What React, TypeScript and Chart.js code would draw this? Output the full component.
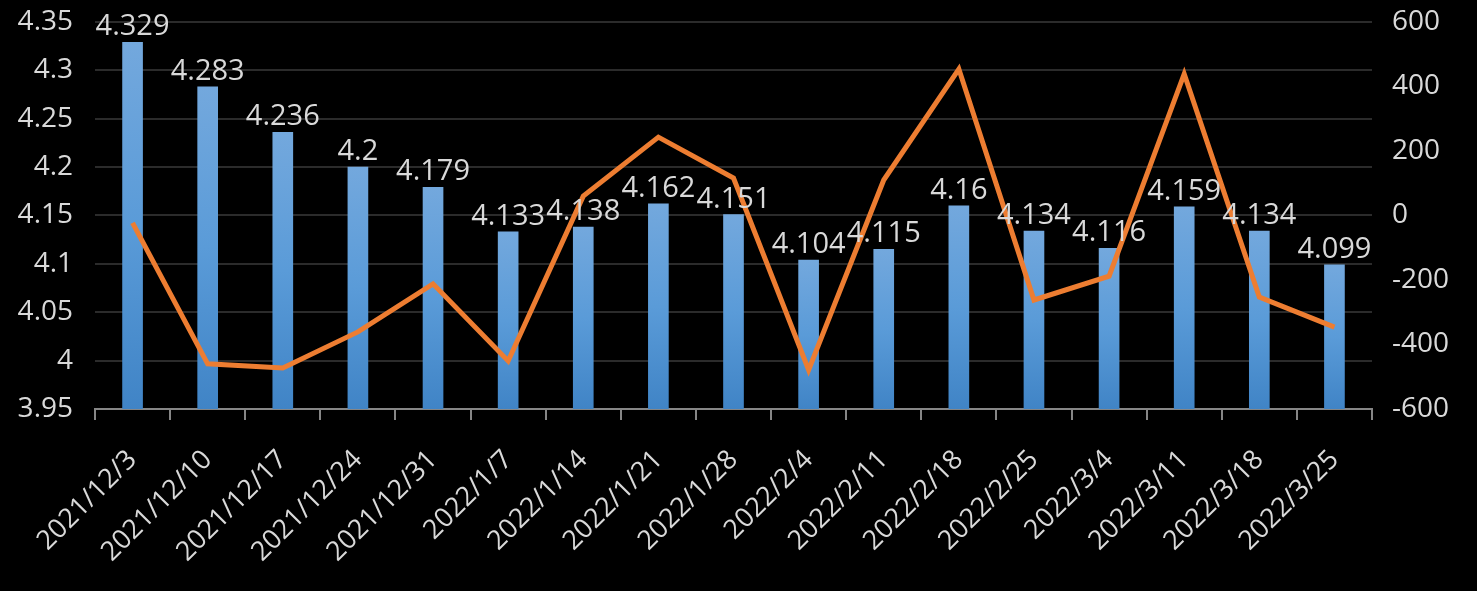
import React, { useEffect, useRef } from "react";
import { Chart, registerables } from "chart.js";

Chart.register(...registerables);

const categories = [
  "2021/12/3", "2021/12/10", "2021/12/17", "2021/12/24", "2021/12/31",
  "2022/1/7", "2022/1/14", "2022/1/21", "2022/1/28", "2022/2/4",
  "2022/2/11", "2022/2/18", "2022/2/25", "2022/3/4", "2022/3/11",
  "2022/3/18", "2022/3/25",
];
const rateValues = [
  4.329, 4.283, 4.236, 4.2, 4.179, 4.133, 4.138, 4.162, 4.151, 4.104,
  4.115, 4.16, 4.134, 4.116, 4.159, 4.134, 4.099,
];
const changeValues = [
  -23, -460, -473, -361, -212, -451, 60, 243, 116, -479,
  110, 454, -262, -188, 439, -253, -346,
];
const leftTicks = [3.95, 4, 4.05, 4.1, 4.15, 4.2, 4.25, 4.3, 4.35];
const rightTicks = [-600, -400, -200, 0, 200, 400, 600];

const FONT = "'Open Sans', 'Noto Sans', sans-serif";
const TEXT = "#D9D9D9";

export default function App() {
  const ref = useRef<HTMLCanvasElement | null>(null);

  useEffect(() => {
    document.body.style.margin = "0";
    document.body.style.background = "#000";
    const canvas = ref.current;
    if (!canvas) return;

    const bgPlugin = {
      id: "bg",
      beforeDraw(chart: any) {
        const c = chart.ctx;
        c.save();
        c.fillStyle = "#000";
        c.fillRect(0, 0, chart.width, chart.height);
        c.restore();
      },
    };

    const labelPlugin = {
      id: "barLabels",
      afterDatasetsDraw(chart: any) {
        const meta = chart.getDatasetMeta(1);
        const c = chart.ctx;
        c.save();
        c.fillStyle = TEXT;
        c.font = `29px ${FONT}`;
        c.textAlign = "center";
        c.textBaseline = "alphabetic";
        meta.data.forEach((el: any, i: number) => {
          c.fillText(String(rateValues[i]), el.x, el.y - 7);
        });
        c.restore();
      },
    };

    const noPad = (s: any) => {
      s.paddingTop = 0;
      s.paddingBottom = 0;
      s.paddingLeft = 0;
      s.paddingRight = 0;
    };

    const chart = new Chart(canvas, {
      type: "bar",
      data: {
        labels: categories,
        datasets: [
          {
            type: "line",
            label: "change",
            data: changeValues,
            yAxisID: "y1",
            borderColor: "#ED7D31",
            borderWidth: 5,
            pointRadius: 0,
            tension: 0,
            order: 0,
          } as any,
          {
            type: "bar",
            label: "rate",
            data: rateValues,
            yAxisID: "y",
            barThickness: 20,
            backgroundColor: (ctx: any) => {
              const chart = ctx.chart;
              const area = chart.chartArea;
              if (!area || !chart.scales.y) return "#5B9BD5";
              const top = chart.scales.y.getPixelForValue(ctx.raw);
              const g = chart.ctx.createLinearGradient(0, top, 0, area.bottom);
              g.addColorStop(0, "#73A8DD");
              g.addColorStop(0.5, "#5A9BD8");
              g.addColorStop(1, "#4084C6");
              return g;
            },
            order: 1,
          },
        ],
      },
      options: {
        responsive: false,
        animation: false,
        layout: { padding: { top: 22, left: 0, right: 0, bottom: 0 } },
        plugins: {
          legend: { display: false },
          tooltip: { enabled: false },
        },
        scales: {
          x: {
            offset: true,
            grid: {
              display: true,
              drawOnChartArea: false,
              drawTicks: true,
              tickLength: 11,
              color: "#868686",
              lineWidth: 2,
            },
            border: { display: true, color: "#868686", width: 2 },
            ticks: {
              color: TEXT,
              font: { size: 27, family: FONT },
              minRotation: 45,
              maxRotation: 45,
              autoSkip: false,
              padding: 24,
            },
            afterFit: (s: any) => {
              s.height = 182;
              noPad(s);
            },
          },
          y: {
            position: "left",
            min: 3.95,
            max: 4.35,
            afterBuildTicks: (s: any) => {
              s.ticks = leftTicks.map((v) => ({ value: v }));
            },
            grid: { color: "#2B2B2B", lineWidth: 2, drawTicks: false },
            border: { display: false },
            ticks: {
              color: TEXT,
              font: { size: 28, family: FONT },
              padding: 22,
              callback: (v: any) => String(Number(Number(v).toFixed(2))),
            },
            afterFit: (s: any) => {
              s.width = 95;
              noPad(s);
            },
          },
          y1: {
            position: "right",
            min: -600,
            max: 600,
            afterBuildTicks: (s: any) => {
              s.ticks = rightTicks.map((v) => ({ value: v }));
            },
            grid: { display: false, drawTicks: false },
            border: { display: false },
            ticks: {
              color: TEXT,
              font: { size: 28, family: FONT },
              padding: 20,
              callback: (v: any) => String(v),
            },
            afterFit: (s: any) => {
              s.width = 105;
              noPad(s);
            },
          },
        },
      },
      plugins: [bgPlugin, labelPlugin],
    });

    return () => chart.destroy();
  }, []);

  return (
    <div style={{ width: 1477, height: 591, background: "#000" }}>
      <canvas ref={ref} width={1477} height={591} />
    </div>
  );
}
